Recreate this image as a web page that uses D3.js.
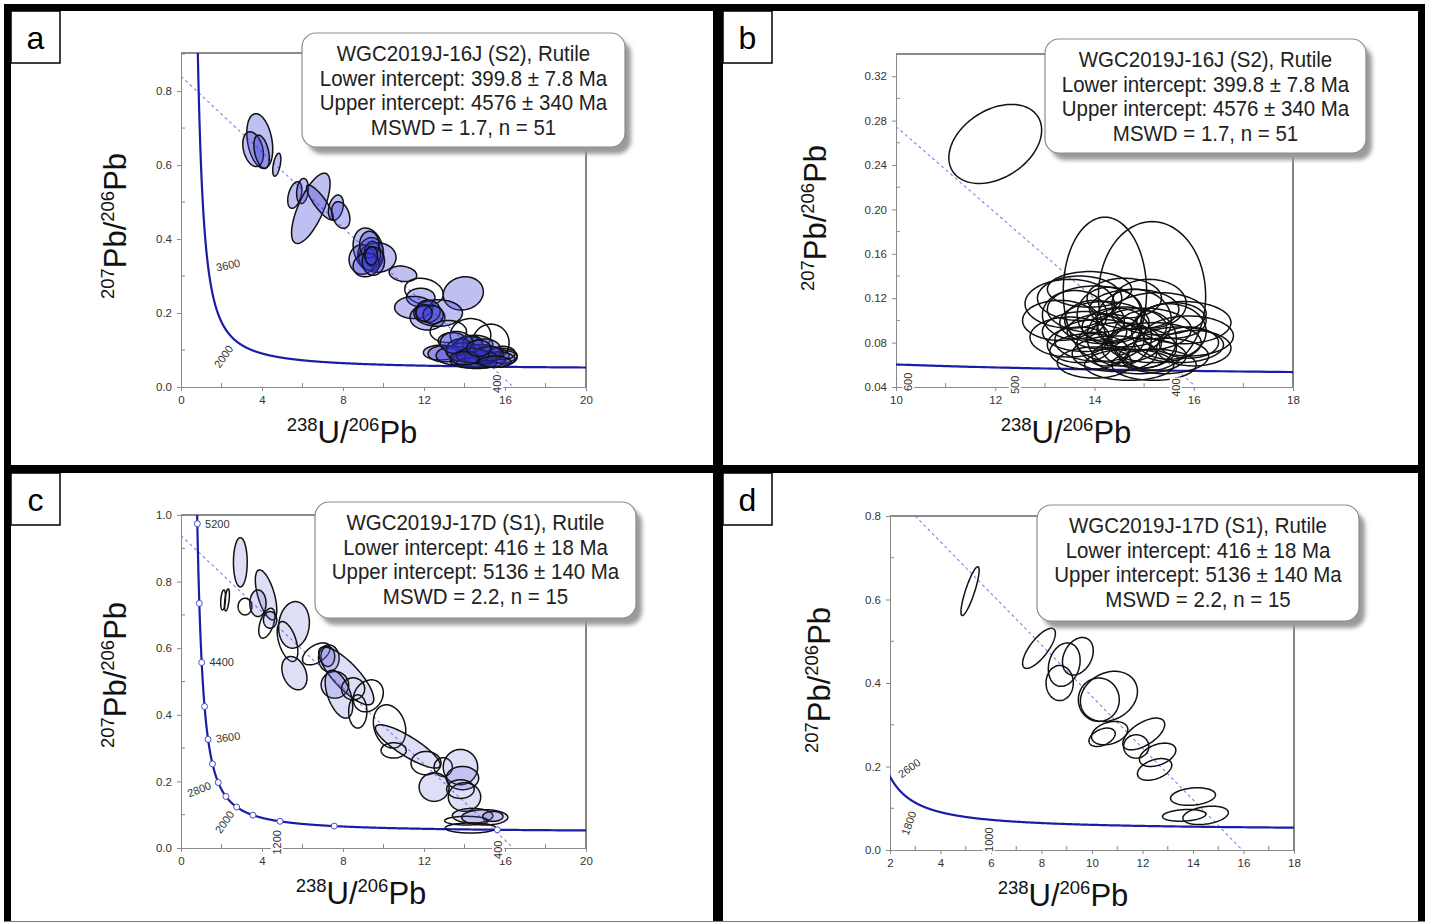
<!DOCTYPE html>
<html><head><meta charset="utf-8">
<script src="https://cdn.jsdelivr.net/npm/d3@7"></script>
<style>
body{margin:0;background:#fff}
svg{display:block}
text{font-family:"Liberation Sans",Arial,Helvetica,sans-serif}
</style>
</head><body>
<svg id="chart" width="1431" height="924"></svg>
<script>
// ---------------- DATA ----------------
// Ellipses: [centre 238U/206Pb, centre 207Pb/206Pb, half-width x, half-height y, correlation, filled]
const ellipsesA = [
 [3.89,0.665,0.64,0.074,-0.3,1],[3.56,0.643,0.51,0.047,-0.3,1],[3.98,0.636,0.38,0.045,-0.4,1],[4.73,0.601,0.20,0.031,0.5,1],
 [5.62,0.519,0.35,0.036,0.4,1],[6.00,0.530,0.29,0.034,0.2,1],[6.41,0.483,0.95,0.095,0.7,1],[6.86,0.499,0.66,0.047,-0.85,1],
 [7.65,0.485,0.37,0.034,0.3,1],[7.89,0.465,0.45,0.036,-0.3,1],
 [9.25,0.372,0.75,0.058,-0.2,1],[9.35,0.360,0.62,0.044,0.1,1],[9.70,0.350,0.92,0.040,0.0,1],[8.95,0.345,0.65,0.040,0.0,1],
 [9.45,0.360,0.40,0.034,0.0,1],[9.30,0.385,0.48,0.036,0.0,1],[9.15,0.330,0.65,0.032,0.1,1],[9.50,0.340,0.55,0.038,0.0,1],
 [9.40,0.355,0.30,0.025,0.0,1],
 [10.96,0.306,0.68,0.021,-0.2,1],
 [12.0,0.258,0.95,0.036,-0.2,0],[13.94,0.253,0.99,0.045,0.1,1],[11.84,0.242,0.70,0.025,0,1],[11.5,0.215,0.95,0.030,0,1],
 [12.17,0.188,0.86,0.034,0,1],[12.7,0.200,1.20,0.036,0,1],[12.2,0.205,0.60,0.030,0,1],[12.45,0.195,0.50,0.025,0,1],[12.0,0.200,0.40,0.022,0,1],
 [13.2,0.150,0.90,0.030,0,0],[14.3,0.140,1.00,0.045,0,0],[15.3,0.120,0.90,0.050,0,0],
 [12.8,0.093,0.83,0.020,0,1],[13.4,0.125,0.70,0.022,0,1],
 [14.5,0.115,0.90,0.025,0,1],[14.2,0.112,0.70,0.025,0,1],[14.4,0.118,0.50,0.020,0,1],[13.0,0.090,0.80,0.022,0,1],
 [13.5,0.085,0.90,0.025,0,1],[14.0,0.095,0.90,0.025,0,1],[14.8,0.090,1.00,0.025,0,1],[15.3,0.085,0.90,0.022,0,1],
 [15.8,0.085,0.80,0.020,0,1],[14.5,0.075,1.10,0.020,0,1],[15.0,0.072,1.00,0.020,0,1],[14.2,0.070,0.90,0.018,0,1],
 [15.6,0.075,0.90,0.020,0,1],[15.9,0.092,0.60,0.018,0,0],[16.0,0.080,0.60,0.018,0,0],[13.8,0.100,0.70,0.030,0,1],
 [15.0,0.100,0.80,0.030,0,1],[14.6,0.065,1.00,0.015,0,1],[13.6,0.120,0.80,0.030,0,1],
 [14.8,0.080,0.80,0.018,0,1],[15.2,0.090,0.70,0.020,0,1],[14.4,0.085,0.80,0.020,0,1],[15.5,0.068,0.80,0.015,0,1],
 [14.0,0.078,0.70,0.018,0,1],[14.7,0.105,0.60,0.022,0,1]
];
const ellipsesB = [
 [12.0,0.259,0.935,0.0356,0.35,0],[14.21,0.126,0.84,0.067,0,0],[15.16,0.122,1.08,0.067,0,0],
 [13.5,0.115,0.90,0.022,0,0],[13.7,0.120,0.85,0.020,0,0],[13.9,0.128,0.85,0.016,0,0],[13.3,0.100,0.75,0.018,0,0],
 [14.0,0.110,0.95,0.021,0,0],[14.8,0.110,0.90,0.018,0,0],[15.3,0.106,0.95,0.019,0,0],[15.8,0.098,0.95,0.019,0,0],
 [15.9,0.086,0.90,0.018,0,0],[14.2,0.098,0.90,0.019,0,0],[14.6,0.094,0.85,0.018,0,0],[15.0,0.092,0.95,0.019,0,0],
 [13.8,0.090,0.85,0.018,0,0],[13.5,0.085,0.80,0.018,0,0],[14.1,0.082,0.90,0.019,0,0],[14.5,0.080,0.85,0.018,0,0],
 [15.2,0.080,0.95,0.018,0,0],[15.7,0.078,0.90,0.016,0,0],[16.0,0.075,0.75,0.016,0,0],[13.9,0.072,0.80,0.016,0,0],
 [14.4,0.070,0.85,0.016,0,0],[14.9,0.068,0.95,0.016,0,0],[15.4,0.068,0.90,0.016,0,0],[14.0,0.062,0.75,0.014,0,0],
 [14.7,0.060,0.90,0.014,0,0],[15.2,0.060,0.85,0.014,0,0],[14.5,0.085,0.65,0.026,0,0],[15.0,0.083,0.65,0.026,0,0],
 [14.8,0.100,0.75,0.028,0,0],[14.3,0.105,0.65,0.025,0,0],[15.5,0.090,0.75,0.025,0,0],[13.6,0.105,0.65,0.022,0,0],
 [14.0,0.100,0.60,0.018,0,0],[15.6,0.100,0.65,0.016,0,0],[14.9,0.075,0.75,0.018,0,0],[14.2,0.090,0.75,0.016,0,0],
 [15.1,0.115,0.75,0.022,0,0],[14.6,0.120,0.75,0.018,0,0],[15.9,0.080,0.60,0.014,0,0],[13.7,0.078,0.65,0.016,0,0]
];
const ellipsesC = [
 [2.93,0.858,0.34,0.074,0,1],[2.08,0.745,0.12,0.030,0.3,0],[2.27,0.745,0.12,0.033,0.5,0],[3.16,0.725,0.34,0.025,0,0],
 [4.20,0.760,0.53,0.075,-0.6,1],[3.80,0.735,0.40,0.040,0,1],[4.24,0.675,0.40,0.045,0.5,0],[4.40,0.685,0.33,0.025,0,1],
 [5.58,0.670,0.76,0.070,0.1,1],[5.26,0.620,0.51,0.060,-0.5,0],[5.60,0.525,0.62,0.050,-0.3,1],[6.68,0.583,0.68,0.033,0.5,0],
 [7.30,0.570,0.51,0.040,0,1],[7.25,0.575,0.34,0.030,0,1],[8.16,0.517,1.36,0.087,-0.8,1],[7.60,0.490,0.68,0.040,0,1],
 [7.80,0.462,0.68,0.072,-0.5,1],[8.50,0.478,0.57,0.033,0,0],[9.25,0.457,0.74,0.048,0.2,0],[8.73,0.410,0.45,0.050,0,0],
 [10.3,0.365,0.80,0.065,-0.2,0],[11.2,0.305,1.60,0.065,-0.85,1],[10.5,0.293,0.62,0.023,0,0],[12.1,0.255,0.74,0.035,0,0],
 [12.95,0.243,0.45,0.028,0,0],[12.5,0.183,0.74,0.043,0,1],[13.8,0.243,0.85,0.053,0,1],[13.9,0.210,0.80,0.035,0,1],
 [14.0,0.153,0.80,0.043,0,1],[14.4,0.097,1.00,0.022,0,1],[14.1,0.082,1.08,0.013,0,0],[15.0,0.092,1.14,0.023,0,1],
 [14.3,0.060,1.25,0.015,0,0],[15.4,0.095,0.50,0.015,0,1],[13.8,0.177,0.68,0.028,0,0]
];
const ellipsesD = [
 [5.17,0.620,0.36,0.0585,0.85,0],[7.90,0.483,0.65,0.048,0.75,0],[9.44,0.464,0.61,0.045,0.3,0],[8.90,0.444,0.63,0.052,0.2,0],
 [8.72,0.400,0.54,0.042,0,0],[10.67,0.368,1.13,0.060,0.2,0],[10.27,0.360,0.81,0.052,0,0],[10.70,0.280,0.72,0.028,0.3,0],
 [10.40,0.270,0.52,0.022,0.4,0],[12.05,0.278,0.83,0.038,0.6,0],[11.75,0.248,0.50,0.028,0,0],[12.60,0.228,0.72,0.028,0.4,0],
 [12.48,0.193,0.68,0.026,0.4,0],[14.00,0.128,0.89,0.021,0.2,0],[13.65,0.083,0.86,0.014,0.2,0],[14.50,0.083,0.90,0.022,0.3,0]
];
// Discordia (dashed reference lines) end points
const discordA = [[0,0.84],[16.41,0]];
const discordB = [[10,0.2746],[16.0,0.042]];
const discordC = [[0,0.938],[16.41,0]];
const discordD = [[3.0,0.8],[15.95,0]];
// Concordia age labels (Ma)
const concLabelsA = [3600,2000,400];
const concLabelsB = [600,500,400];
const concLabelsC = [5200,4400,3600,2800,2000,1200,400];
const concLabelsD = [2600,1800,1000];
const concMarkersC = [400,800,1200,1600,2000,2400,2800,3200,3600,4000,4400,4800,5200];
// Tick values
const xTicksA = [0,4,8,12,16,20], yTicksA = [0,0.2,0.4,0.6,0.8];
const xTicksB = [10,12,14,16,18], yTicksB = [0.04,0.08,0.12,0.16,0.20,0.24,0.28,0.32];
const xTicksC = [0,4,8,12,16,20], yTicksC = [0,0.2,0.4,0.6,0.8,1.0];
const xTicksD = [2,4,6,8,10,12,14,16,18], yTicksD = [0,0.2,0.4,0.6,0.8];
// Legend text
const legend1 = ["WGC2019J-16J (S2), Rutile","Lower intercept: 399.8 \u00B1 7.8 Ma","Upper intercept: 4576 \u00B1 340 Ma","MSWD = 1.7, n = 51"];
const legend2 = ["WGC2019J-17D (S1), Rutile","Lower intercept: 416 \u00B1 18 Ma","Upper intercept: 5136 \u00B1 140 Ma","MSWD = 2.2, n = 15"];
const panelLetters = ["a","b","c","d"];

// --------------- CONCORDIA (decay equations) ---------------
const L238 = 1.55125e-10, L235 = 9.8485e-10, U85 = 137.88;
function concordia(tMa){
  const t = tMa*1e6, e8 = Math.expm1(L238*t), e5 = Math.expm1(L235*t);
  return [1/e8, e5/e8/U85];
}

// --------------- LAYOUT ---------------
const panels = [
 {id:"a", box:[11,11], x0:181,x1:586,y0:387,y1:53, xd:[0,20], yd:[0,0.903], xt:xTicksA, xm:2, yt:yTicksA, ym:0.1, yf:".1f",
  ell:ellipsesA, fill:"rgb(55,55,215)", fop:0.32, disc:discordA, labels:concLabelsA,
  lab:{3600:[20,-1,-12],2000:[-13,15,-55],400:[0,17,-90]},
  leg:legend1, lb:[302,33,323,114], ytitle:[126,226], xtitle:[352,432]},
 {id:"b", box:[723,11], x0:896,x1:1293,y0:387,y1:54, xd:[10,18], yd:[0.04,0.34], xt:xTicksB, xm:1, yt:yTicksB, ym:0.02, yf:".2f",
  ell:ellipsesB, fill:"none", fop:0, disc:discordB, labels:concLabelsB,
  lab:{600:[0,17,-90],500:[0,17,-90],400:[1,17,-90]},
  leg:legend1, lb:[1045,39,321,114], ytitle:[826,218], xtitle:[1066,432]},
 {id:"c", box:[11,473], x0:181,x1:586,y0:848,y1:515, xd:[0,20], yd:[0,1.0], xt:xTicksC, xm:2, yt:yTicksC, ym:0.1, yf:".1f",
  ell:ellipsesC, fill:"rgb(90,90,215)", fop:0.2, disc:discordC, labels:concLabelsC, markers:concMarkersC,
  lab:{5200:[20,0,0],4400:[20,0,0],3600:[20,-2,-8],2800:[-19,7,-22],2000:[-12,15,-55],1200:[-3,21,-90],400:[1,20,-90]},
  leg:legend2, lb:[315,502,321,116], ytitle:[126,675], xtitle:[361,893]},
 {id:"d", box:[723,473], x0:890,x1:1294,y0:850,y1:516, xd:[2,18], yd:[0,0.8], xt:xTicksD, xm:1, yt:yTicksD, ym:0.1, yf:".1f",
  ell:ellipsesD, fill:"none", fop:0, disc:discordD, labels:concLabelsD,
  lab:{2600:[19,-9,-35],1800:[-9,19,-70],1000:[-1,20,-90]},
  leg:legend2, lb:[1037,505,322,116], ytitle:[830,680], xtitle:[1063,895]}
];

const svg = d3.select("#chart");
const defs = svg.append("defs");
const blur = defs.append("filter").attr("id","sh").attr("x","-10%").attr("y","-10%").attr("width","130%").attr("height","130%");
blur.append("feGaussianBlur").attr("stdDeviation",2.2);

svg.append("rect").attr("width",1431).attr("height",924).attr("fill","#fff");

const concAges = d3.range(250, 5700, 4);

panels.forEach((p,i)=>{
  const g = svg.append("g");
  const x = d3.scaleLinear().domain(p.xd).range([p.x0,p.x1]);
  const y = d3.scaleLinear().domain(p.yd).range([p.y0,p.y1]);
  const clipId = "clip"+p.id;
  defs.append("clipPath").attr("id",clipId).append("rect")
    .attr("x",p.x0).attr("y",p.y1).attr("width",p.x1-p.x0).attr("height",p.y0-p.y1);

  // frame top/right
  g.append("path").attr("d",`M${p.x0},${p.y1}H${p.x1}V${p.y0}`).attr("fill","none").attr("stroke","#666").attr("stroke-width",1.6);

  // axes
  const xa = d3.axisBottom(x).tickValues(p.xt).tickSize(4).tickSizeOuter(0).tickPadding(5).tickFormat(d3.format("d"));
  const ya = d3.axisLeft(y).tickValues(p.yt).tickSize(4).tickSizeOuter(0).tickPadding(5).tickFormat(d3.format(p.yf));
  const gx = g.append("g").attr("transform",`translate(0,${p.y0})`).call(xa);
  const gy = g.append("g").attr("transform",`translate(${p.x0},0)`).call(ya);
  [gx,gy].forEach(a=>{
    a.select(".domain").attr("stroke","#8a8a8a");
    a.selectAll(".tick line").attr("stroke","#8a8a8a");
    a.selectAll("text").attr("fill","#333").attr("font-size",11.5).attr("font-family","Liberation Sans, Arial, sans-serif");
  });
  // minor ticks (inside)
  const xmin = d3.range(p.xd[0], p.xd[1]+1e-9, p.xm).filter(v=>!p.xt.some(t=>Math.abs(t-v)<1e-9));
  g.selectAll(null).data(xmin).enter().append("line")
    .attr("x1",d=>x(d)).attr("x2",d=>x(d)).attr("y1",p.y0).attr("y2",p.y0-4).attr("stroke","#8a8a8a");
  const ymin = d3.range(p.yd[0], p.yd[1]+1e-9, p.ym).filter(v=>!p.yt.some(t=>Math.abs(t-v)<1e-6));
  g.selectAll(null).data(ymin).enter().append("line")
    .attr("y1",d=>y(d)).attr("y2",d=>y(d)).attr("x1",p.x0).attr("x2",p.x0+4).attr("stroke","#8a8a8a");

  const plot = g.append("g").attr("clip-path",`url(#${clipId})`);

  // discordia line
  plot.append("line").attr("x1",x(p.disc[0][0])).attr("y1",y(p.disc[0][1]))
    .attr("x2",x(p.disc[1][0])).attr("y2",y(p.disc[1][1]))
    .attr("stroke","#7f7ff0").attr("stroke-width",1.1).attr("stroke-dasharray","3,3");

  // concordia
  const cl = d3.line().x(d=>x(concordia(d)[0])).y(d=>y(concordia(d)[1]));
  plot.append("path").attr("d",cl(concAges)).attr("fill","none").attr("stroke","#1c1ca6").attr("stroke-width",2.2);

  // ellipses
  const th = d3.range(0, 2*Math.PI, Math.PI/48);
  const el = d3.line().curve(d3.curveLinearClosed);
  p.ell.forEach(e=>{
    const [cx,cy,sx,sy,r,f] = e;
    const q = Math.sqrt(1-r*r);
    const pts = th.map(t=>[x(cx+sx*Math.cos(t)), y(cy+sy*(r*Math.cos(t)+q*Math.sin(t)))]);
    plot.append("path").attr("d",el(pts))
      .attr("fill", f ? p.fill : "none").attr("fill-opacity", f ? p.fop : 0)
      .attr("stroke","#111").attr("stroke-width",1.5);
  });

  // concordia markers
  if(p.markers){
    plot.selectAll(null).data(p.markers).enter().append("circle")
      .attr("cx",d=>x(concordia(d)[0])).attr("cy",d=>y(concordia(d)[1])).attr("r",3)
      .attr("fill","#fff").attr("stroke","#4a4ad0").attr("stroke-width",1);
  }

  // concordia age labels
  p.labels.forEach(a=>{
    const [cx,cy] = concordia(a);
    const o = p.lab[a];
    const lg = g.append("g").attr("transform",`translate(${x(cx)+o[0]},${y(cy)+o[1]}) rotate(${o[2]})`);
    const t = lg.append("text").attr("text-anchor","middle").attr("dy","0.35em")
      .attr("font-size",11).attr("fill","#333").text(a);
    const bb = t.node().getBBox();
    lg.insert("rect","text").attr("x",bb.x-1).attr("y",bb.y).attr("width",bb.width+2).attr("height",bb.height).attr("fill","#fff");
  });

  // legend box
  const [lx,ly,lw,lh] = p.lb;
  g.append("rect").attr("x",lx+6).attr("y",ly+7).attr("width",lw).attr("height",lh).attr("rx",14)
    .attr("fill","#9a9a9a").attr("filter","url(#sh)");
  g.append("rect").attr("x",lx).attr("y",ly).attr("width",lw).attr("height",lh).attr("rx",14)
    .attr("fill","#fff").attr("stroke","#8c8c8c").attr("stroke-width",1.2);
  p.leg.forEach((s,k)=>{
    g.append("text").attr("transform",`translate(${lx+lw/2},${ly+28+k*24.5}) scale(0.93,1)`)
      .attr("text-anchor","middle").attr("font-size",22).attr("fill","#222").text(s);
  });

  // axis titles
  const yt = g.append("text").attr("transform",`translate(${p.ytitle[0]},${p.ytitle[1]}) rotate(-90)`)
    .attr("text-anchor","middle").attr("fill","#111");
  yt.append("tspan").attr("font-size",18.5).attr("dy",-12).text("207");
  yt.append("tspan").attr("font-size",31).attr("dy",12).text("Pb/");
  yt.append("tspan").attr("font-size",18.5).attr("dy",-12).text("206");
  yt.append("tspan").attr("font-size",31).attr("dy",12).text("Pb");
  const xt = g.append("text").attr("transform",`translate(${p.xtitle[0]},${p.xtitle[1]+11})`)
    .attr("text-anchor","middle").attr("fill","#111");
  xt.append("tspan").attr("font-size",18.5).attr("dy",-12).text("238");
  xt.append("tspan").attr("font-size",31).attr("dy",12).text("U/");
  xt.append("tspan").attr("font-size",18.5).attr("dy",-12).text("206");
  xt.append("tspan").attr("font-size",31).attr("dy",12).text("Pb");

  // panel letter box
  svg.append("rect").attr("x",p.box[0]).attr("y",p.box[1]).attr("width",49).attr("height",52)
    .attr("fill","#fff").attr("stroke","#000").attr("stroke-width",1.5);
  svg.append("text").attr("x",p.box[0]+24.5).attr("y",p.box[1]+38).attr("text-anchor","middle")
    .attr("font-size",32).attr("fill","#000").text(panelLetters[i]);
});

// outer black frame & separators
const frame = svg.append("g").attr("fill","#000");
frame.append("rect").attr("x",4).attr("y",4).attr("width",1421).attr("height",7);
frame.append("rect").attr("x",4).attr("y",4).attr("width",7).attr("height",918);
frame.append("rect").attr("x",1418).attr("y",4).attr("width",7).attr("height",918);
frame.append("rect").attr("x",713).attr("y",4).attr("width",10).attr("height",918);
frame.append("rect").attr("x",4).attr("y",465).attr("width",1421).attr("height",8);
svg.append("line").attr("x1",4).attr("x2",1425).attr("y1",921.5).attr("y2",921.5).attr("stroke","#777").attr("stroke-width",1.2);
</script>
</body></html>
